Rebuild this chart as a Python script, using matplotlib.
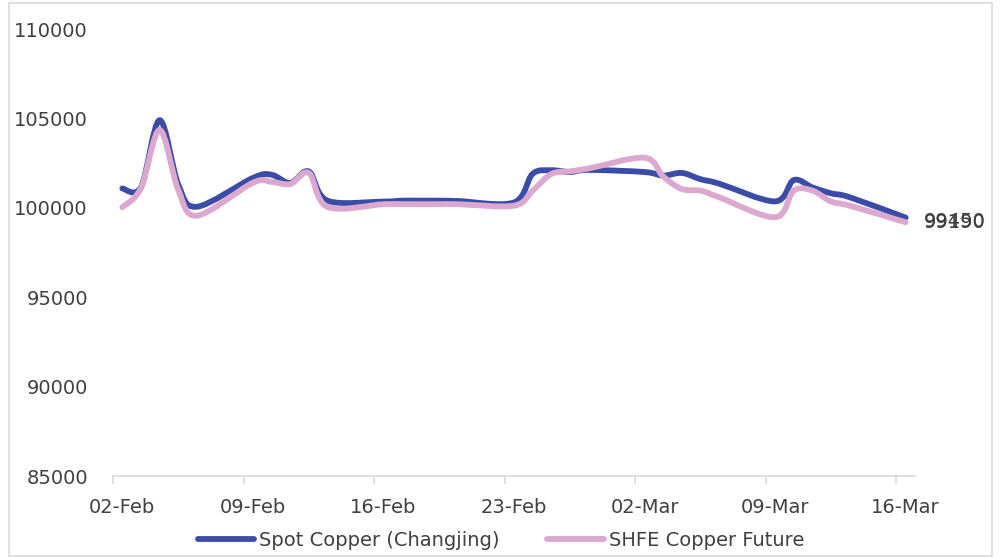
import numpy as np
import matplotlib.pyplot as plt
from matplotlib.path import Path
from matplotlib.patches import PathPatch, Rectangle
from matplotlib.lines import Line2D

# trading days (holiday week kept flat)
trade_dates = [
    "2026-02-02", "2026-02-03", "2026-02-04", "2026-02-05", "2026-02-06",
    "2026-02-09", "2026-02-10", "2026-02-11", "2026-02-12", "2026-02-13",
    "2026-02-16", "2026-02-17", "2026-02-18", "2026-02-19", "2026-02-20",
    "2026-02-23", "2026-02-24", "2026-02-25", "2026-02-26", "2026-02-27",
    "2026-03-02", "2026-03-03", "2026-03-04", "2026-03-05", "2026-03-06",
    "2026-03-09", "2026-03-10", "2026-03-11", "2026-03-12", "2026-03-13",
    "2026-03-16",
]

spot_copper = [
    101080, 101150, 104900, 101300, 100060,
    101670, 101850, 101390, 102030, 100400,
    100350, 100400, 100400, 100400, 100380,
    100300, 101900, 102100, 102000, 102120,
    102000, 101800, 101950, 101600, 101350,
    100360, 101550, 101140, 100810, 100590,
    99450,
]

shfe_future = [
    100030, 101100, 104350, 101000, 99560,
    101400, 101450, 101330, 101950, 100050,
    100200, 100200, 100200, 100200, 100200,
    100120, 100960, 101890, 102040, 102200,
    102800, 101750, 101050, 100960, 100590,
    99470, 100960, 100960, 100350, 100120,
    99190,
]

tick_labels = ["02-Feb", "09-Feb", "16-Feb", "23-Feb", "02-Mar", "09-Mar", "16-Mar"]
y_ticks = [85000, 90000, 95000, 100000, 105000, 110000]

BLUE = "#3a4ca6"
PINK = "#dca8d0"
TEXT = "#404040"
FS = 14


def smooth_path(x, y):
    """Bezier path through every point, like a spreadsheet 'smoothed line'."""
    pts = np.column_stack([x, y]).astype(float)
    n = len(pts)
    verts = [pts[0]]
    codes = [Path.MOVETO]
    for i in range(n - 1):
        p_prev = pts[max(i - 1, 0)]
        p0, p1 = pts[i], pts[i + 1]
        p_next = pts[min(i + 2, n - 1)]
        c1 = p0 + (p1 - p_prev) / 6.0
        c2 = p1 - (p_next - p0) / 6.0
        verts += [c1, c2, p1]
        codes += [Path.CURVE4] * 3
    return Path(verts, codes)


days = (np.array(trade_dates, dtype="datetime64[D]")
        - np.datetime64(trade_dates[0], "D")).astype(float)

plt.rcParams["font.family"] = "DejaVu Sans"

fig = plt.figure(figsize=(10.02, 5.58), dpi=100)
ax = fig.add_axes([113 / 1002, 1 - 476 / 558, (915 - 113) / 1002, (476 - 29) / 558])

for vals, color in [(spot_copper, BLUE), (shfe_future, PINK)]:
    patch = PathPatch(smooth_path(days, vals), fill=False, edgecolor=color,
                      lw=4.2, capstyle="round", joinstyle="round")
    ax.add_patch(patch)

ax.annotate(f"{spot_copper[-1]}", (days[-1], spot_copper[-1]), xytext=(13, -2.9),
            textcoords="offset points", ha="left", va="center", fontsize=FS, color=TEXT)
ax.annotate(f"{shfe_future[-1]}", (days[-1], shfe_future[-1]), xytext=(13, 0),
            textcoords="offset points", ha="left", va="center", fontsize=FS, color=TEXT)

ax.set_xlim(-0.5, 42.5)
ax.set_ylim(85000, 110000)

ax.set_yticks(y_ticks)
ax.set_yticklabels([str(v) for v in y_ticks])
ax.tick_params(axis="y", length=0, pad=18, labelsize=FS, labelcolor=TEXT)

ax.set_xticks(np.arange(0, 43, 7))
ax.set_xticklabels(tick_labels)
ax.set_xticks(np.arange(-0.5, 43, 7), minor=True)
ax.tick_params(axis="x", which="major", length=0, pad=16, labelsize=FS, labelcolor=TEXT)
ax.tick_params(axis="x", which="minor", length=5.5, width=1.2, color="#d9d9d9")

for side in ["top", "right", "left"]:
    ax.spines[side].set_visible(False)
ax.spines["bottom"].set_color("#d9d9d9")
ax.spines["bottom"].set_linewidth(1.2)

handles = [Line2D([], [], color=BLUE, lw=4.2, solid_capstyle="round"),
           Line2D([], [], color=PINK, lw=4.2, solid_capstyle="round")]
fig.legend(handles, ["Spot Copper (Changjing)", "SHFE Copper Future"],
           loc="center", bbox_to_anchor=(0.5, 1 - 540 / 558), ncol=2, frameon=False,
           fontsize=FS, handlelength=2.9, handletextpad=0.25, columnspacing=2.45,
           labelcolor=TEXT)

fig.patches.append(Rectangle((9 / 1002, 2 / 558), 983 / 1002, 553 / 558,
                             transform=fig.transFigure, fill=False,
                             edgecolor="#d9d9d9", lw=1.2))

fig.savefig("out.png", dpi=100, facecolor="white")
